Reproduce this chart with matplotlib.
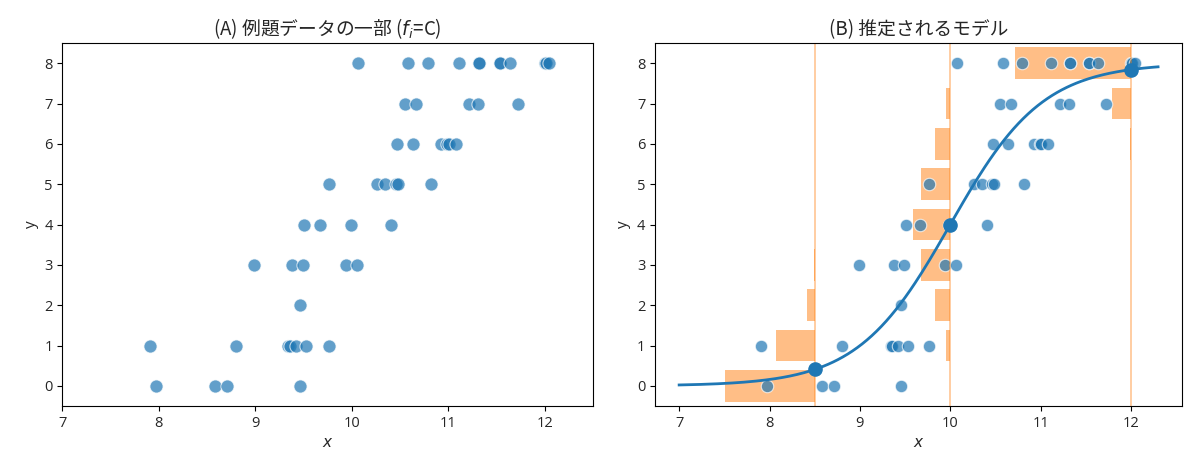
import math
import numpy as np
import matplotlib.pyplot as plt

plt.rcParams['font.family'] = ['Open Sans', 'Noto Sans CJK JP', 'DejaVu Sans']
plt.rcParams['text.color'] = '#262626'
plt.rcParams['axes.labelcolor'] = '#262626'
plt.rcParams['xtick.labelcolor'] = '#262626'
plt.rcParams['ytick.labelcolor'] = '#262626'

# 例題データ (f_i = C) : 図から読み取った値
x_data = [10.07, 10.58, 10.79, 11.11, 11.32, 11.32, 11.54, 11.54, 11.64, 12.00, 12.01, 12.05,
          10.55, 10.67, 11.22, 11.31, 11.72,
          10.47, 10.64, 10.93, 10.99, 11.01, 11.08,
          9.76, 10.26, 10.35, 10.46, 10.48, 10.82,
          9.51, 9.67, 9.99, 10.41,
          8.99, 9.38, 9.49, 9.94, 10.06,
          9.46,
          7.91, 8.80, 9.34, 9.36, 9.42, 9.53, 9.76,
          7.97, 8.58, 8.71, 9.46]
y_data = [8] * 12 + [7] * 5 + [6] * 6 + [5] * 6 + [4] * 4 + [3] * 5 + [2] * 1 + [1] * 7 + [0] * 4

N = 8
beta1, beta2 = -19.5, 1.95          # 推定されたパラメータ
x_model = [8.5, 10.0, 12.0]         # 分布を描く位置
bar_scale = 1.5
bar_height = 0.78

title_font = ['Noto Sans CJK JP', 'DejaVu Sans']


def logistic(z):
    return 1.0 / (1.0 + np.exp(-z))


fig = plt.figure(figsize=(12, 4.63), dpi=100)
ax1 = fig.add_axes([0.052, 0.123, 0.442, 0.784])
ax2 = fig.add_axes([0.546, 0.123, 0.439, 0.784])

# (A)
ax1.scatter(x_data, y_data, s=90, color='C0', alpha=0.7, edgecolor='white', linewidth=0.8)
ax1.set_xlim(7, 12.5)
ax1.set_ylim(-0.5, 8.5)
ax1.set_xticks(range(7, 13))
ax1.set_yticks(range(0, 9))
ax1.set_xlabel('$x$', fontsize=11)
ax1.set_ylabel('y', fontsize=11)
ax1.set_title('(A) 例題データの一部 ($f_i$=C)', fontsize=13.5, family=title_font)

# (B)
ys = np.arange(N + 1)
for xm in x_model:
    q = logistic(beta1 + beta2 * xm)
    pmf = [math.comb(N, k) * q**k * (1 - q)**(N - k) for k in ys]
    w = np.array(pmf) * bar_scale
    ax2.barh(ys, w, left=xm - w, height=bar_height, color='C1', alpha=0.5, linewidth=0)
    ax2.axvline(xm, color='C1', alpha=0.45, lw=1.2)

ax2.scatter(x_data, y_data, s=80, color='C0', alpha=0.7, edgecolor='white', linewidth=0.8)

xx = np.linspace(7, 12.3, 200)
ax2.plot(xx, N * logistic(beta1 + beta2 * xx), color='C0', lw=2)
xm_arr = np.array(x_model)
ax2.scatter(xm_arr, N * logistic(beta1 + beta2 * xm_arr), s=90, color='C0', zorder=5)

ax2.set_xlim(6.735, 12.565)
ax2.set_ylim(-0.5, 8.5)
ax2.set_xticks(range(7, 13))
ax2.set_yticks(range(0, 9))
ax2.set_xlabel('$x$', fontsize=11)
ax2.set_ylabel('y', fontsize=11)
ax2.set_title('(B) 推定されるモデル', fontsize=13.5, family=title_font)

for ax in (ax1, ax2):
    ax.tick_params(labelsize=10.5)

plt.savefig('out.png')
